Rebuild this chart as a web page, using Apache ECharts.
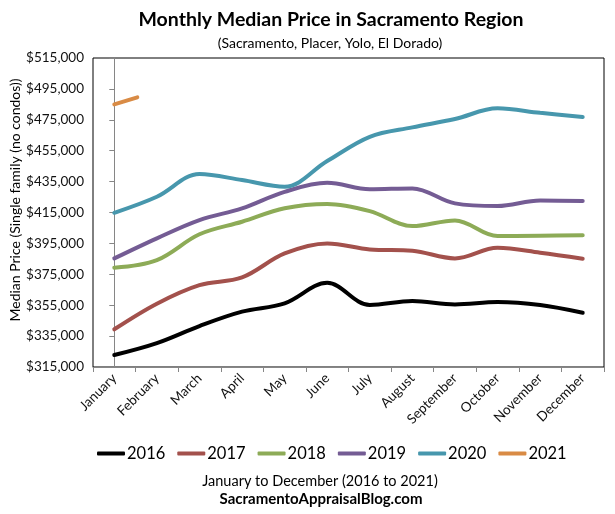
<!DOCTYPE html>
<html>
<head>
<meta charset="utf-8">
<script src="https://cdn.jsdelivr.net/npm/echarts@6/dist/echarts.min.js"></script>
<style>
    html, body { margin: 0; padding: 0; background: #fff; }
    #chart { width: 615px; height: 514px; }
</style>
</head>
<body>
<div id="chart"></div>
<script>
var months = ['January', 'February', 'March', 'April', 'May', 'June',
    'July', 'August', 'September', 'October', 'November', 'December']

var years = ['2016', '2017', '2018', '2019', '2020', '2021']

var color_list = ['#000000', '#a3514c', '#8dab57', '#745c94', '#4797ad', '#d98b45']

var price_2016 = [322800, 330500, 341500, 350800, 356200, 369500, 355100, 357700, 355500, 357000, 355100, 350100]
var price_2017 = [339400, 356000, 368000, 373000, 388500, 395000, 391100, 390300, 385300, 392200, 389000, 385100]
var price_2018 = [379300, 384200, 400900, 409000, 417700, 420500, 415900, 406200, 409900, 399800, 400000, 400200]
var price_2019 = [385300, 398300, 410100, 417700, 428400, 434200, 430000, 430600, 420900, 419200, 422800, 422400]
var price_2020 = [414800, 425200, 439900, 436000, 431700, 448300, 464000, 470100, 475500, 482400, 479500, 476800]
// 2021 only has a short start segment in the picture
var month_2021 = [0, 0.54]
var price_2021 = [485000, 489500]

var y_ticks = { min: 315000, max: 515000, step: 20000 }

function money(v) {
    return '$' + String(v).replace(/\B(?=(\d{3})+(?!\d))/g, ',')
}

var font = 'Lato, "Open Sans", sans-serif'

var all_series = [price_2016, price_2017, price_2018, price_2019, price_2020]
var seriess = new Array()
for (var i = 0; i < all_series.length; i++) {
    seriess.push({
        name: years[i],
        type: 'line',
        data: all_series[i],
        smooth: 0.35,
        showSymbol: false,
        lineStyle: { width: 4, cap: 'round' },
    })
}
var pts_2021 = new Array()
for (var k = 0; k < price_2021.length; k++) {
    pts_2021.push([month_2021[k], price_2021[k]])
}
seriess.push({
    name: years[5],
    type: 'line',
    xAxisIndex: 1,
    data: pts_2021,
    showSymbol: false,
    lineStyle: { width: 4, cap: 'round' },
})

var option = {
    color: color_list,
    animation: false,
    textStyle: { fontFamily: font },
    grid: {
        left: 93,
        right: 11,
        top: 58,
        bottom: 147,
        show: true,
        borderColor: '#000',
        borderWidth: 1,
    },
    xAxis: [
        {
            type: 'category',
            data: months,
            boundaryGap: true,
            axisLine: { lineStyle: { color: '#868686', width: 1 } },
            axisTick: { show: true, length: 5, lineStyle: { color: '#868686' } },
            axisLabel: { rotate: 45, fontSize: 13.5, color: '#111', fontFamily: font, margin: 9 },
            splitLine: { show: false },
        },
        {
            type: 'value',
            min: -0.5,
            max: 11.5,
            show: false,
        }
    ],
    yAxis: {
        type: 'value',
        min: y_ticks.min,
        max: y_ticks.max,
        interval: y_ticks.step,
        axisLine: { show: true, lineStyle: { color: '#868686', width: 1 } },
        axisTick: { show: true, length: 5, lineStyle: { color: '#868686' } },
        axisLabel: { fontSize: 13.5, color: '#111', fontFamily: font, margin: 9, formatter: money },
        splitLine: { show: false },
    },
    legend: {
        data: years,
        left: 92,
        top: 440,
        icon: 'roundRect',
        itemWidth: 28,
        itemHeight: 4,
        itemGap: 12,
        textStyle: { fontSize: 16.5, color: '#000', fontFamily: font, padding: [0, 0, 0, -3] },
    },
    graphic: [
        {
            type: 'text',
            x: 331, y: 20,
            style: { text: 'Monthly Median Price in Sacramento Region', font: 'bold 19.5px ' + font,
                fill: '#000', align: 'center', verticalAlign: 'middle' }
        },
        {
            type: 'text',
            x: 330, y: 43,
            style: { text: '(Sacramento, Placer, Yolo, El Dorado)', font: '14px ' + font,
                fill: '#000', align: 'center', verticalAlign: 'middle' }
        },
        {
            type: 'text',
            x: 15, y: 200,
            rotation: Math.PI / 2,
            style: { text: 'Median Price (Single family (no condos))', font: '14px ' + font,
                fill: '#000', align: 'center', verticalAlign: 'middle' }
        },
        {
            type: 'text',
            x: 320, y: 481,
            style: { text: 'January to December (2016 to 2021)', font: '14.5px ' + font,
                fill: '#000', align: 'center', verticalAlign: 'middle' }
        },
        {
            type: 'text',
            x: 321, y: 499,
            style: { text: 'SacramentoAppraisalBlog.com', font: 'bold 15px ' + font,
                fill: '#000', align: 'center', verticalAlign: 'middle' }
        },
    ],
    series: seriess,
}

var myChart = echarts.init(document.getElementById('chart'))
myChart.setOption(option, true)
</script>
</body>
</html>
